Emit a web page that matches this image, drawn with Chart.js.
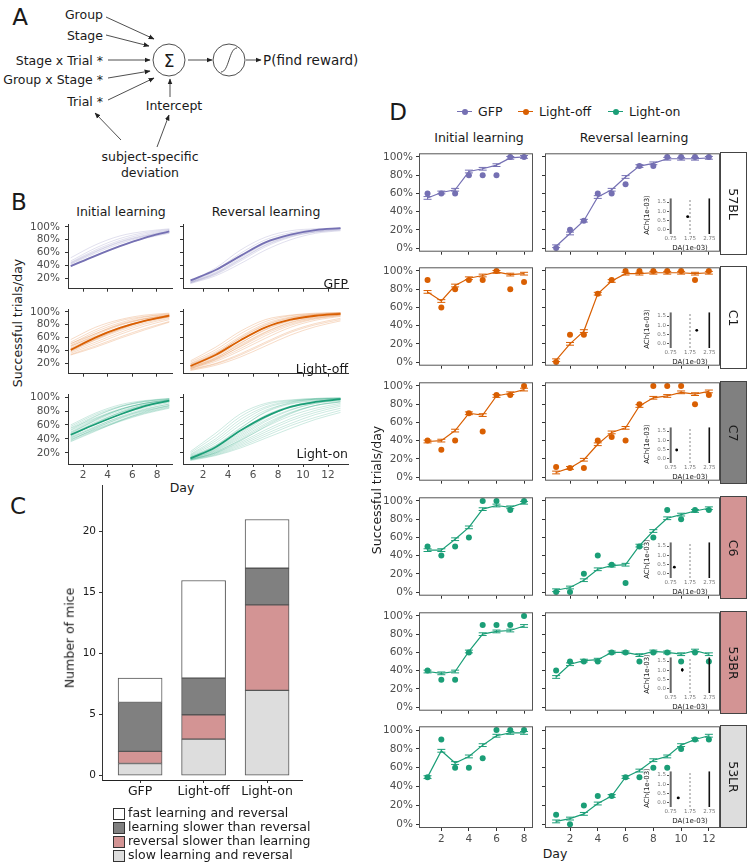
<!DOCTYPE html>
<html>
<head>
<meta charset="utf-8">
<script src="https://cdn.jsdelivr.net/npm/chart.js@4.4.1/dist/chart.umd.min.js"></script>
<style>
body { margin: 0; background: #fff; }
#fig { position: relative; width: 747px; height: 864px; overflow: hidden; font-family: 'DejaVu Sans', sans-serif; color: #1a1a1a; background: #fff; }
#fig canvas { position: absolute; }
</style>
</head>
<body>
<div id="fig">
<svg width="380" height="190" style="position:absolute;left:0;top:0" font-family="DejaVu Sans" font-size="12.5" fill="#1a1a1a">
  <defs>
    <marker id="ah" viewBox="0 0 10 10" refX="9" refY="5" markerUnits="userSpaceOnUse" markerWidth="6" markerHeight="6" orient="auto">
      <path d="M0,1 L10,5 L0,9 z" fill="#222"/>
    </marker>
  </defs>
  <g stroke="#222" stroke-width="0.8" marker-end="url(#ah)">
    <line x1="106" y1="17" x2="154" y2="39"/>
    <line x1="106" y1="35" x2="149" y2="46"/>
    <line x1="108" y1="60" x2="150" y2="60"/>
    <line x1="108" y1="78" x2="150" y2="71"/>
    <line x1="108" y1="100" x2="154" y2="78"/>
    <line x1="170" y1="97" x2="170" y2="79"/>
    <line x1="188" y1="60" x2="212" y2="60"/>
    <line x1="246" y1="60" x2="261" y2="60"/>
    <line x1="121" y1="140" x2="95" y2="113"/>
    <line x1="157" y1="147" x2="169" y2="115"/>
  </g>
  <circle cx="169" cy="60" r="16" fill="none" stroke="#222" stroke-width="0.8"/>
  <circle cx="229" cy="60" r="16" fill="none" stroke="#222" stroke-width="0.8"/>
  <path d="M221,72 C229,72 229,48 237,48" fill="none" stroke="#222" stroke-width="0.8"/>
  <text x="169" y="61" font-size="17" text-anchor="middle" dominant-baseline="central">Σ</text>
  <g text-anchor="end" dominant-baseline="central">
    <text x="103" y="14">Group</text>
    <text x="103" y="35">Stage</text>
    <text x="103" y="60">Stage x Trial *</text>
    <text x="103" y="79">Group x Stage *</text>
    <text x="103" y="101">Trial *</text>
  </g>
  <g text-anchor="middle" dominant-baseline="central">
    <text x="174" y="105">Intercept</text>
    <text x="150" y="156">subject-specific</text>
    <text x="150" y="172">deviation</text>
  </g>
  <text x="263" y="60" font-size="13.5" dominant-baseline="central">P(find reward)</text>
</svg>
</div>
<script>
// ---- groups ----
const groups = ['GFP', 'Light-off', 'Light-on'];
const groupColors = ['#7570b3', '#d95f02', '#1b9e77'];

// ---- panel B: fitted learning curves (read at odd days) ----
const bInitDays = [1, 3, 5, 7, 9];
const bRevDays = [1, 3, 5, 7, 9, 11, 13];

const gfpInitMean = [39, 55, 70, 83, 93];
const gfpInitMice = [
  [52, 72, 86, 93, 97], [47, 67, 82, 91, 96], [44, 62, 77, 87, 94], [42, 59, 74, 85, 92],
  [45, 64, 79, 89, 95], [40, 56, 71, 83, 91], [43, 61, 76, 86, 93], [38, 55, 70, 82, 90]
];
const gfpRevMean = [17, 33, 55, 76, 88, 95, 98];
const gfpRevMice = [
  [16, 36, 64, 84, 94, 97, 98], [15, 33, 59, 80, 91, 96, 98], [14, 29, 52, 74, 87, 94, 97],
  [13, 26, 47, 69, 84, 92, 96], [14, 28, 50, 72, 86, 93, 97], [12, 24, 43, 64, 80, 90, 94],
  [15, 31, 56, 77, 89, 95, 97], [13, 27, 49, 71, 85, 92, 95]
];

const offInitMean = [41, 60, 75, 86, 94];
const offInitMice = [
  [57, 76, 88, 95, 98], [53, 72, 86, 93, 97], [50, 69, 83, 92, 96], [48, 66, 81, 90, 95],
  [46, 64, 79, 89, 95], [44, 61, 76, 87, 94], [42, 58, 73, 85, 93], [40, 56, 71, 83, 92],
  [38, 53, 68, 81, 90], [36, 50, 65, 78, 88], [34, 47, 61, 74, 85], [33, 45, 59, 72, 84],
  [47, 62, 76, 86, 92], [43, 60, 75, 86, 93], [51, 66, 80, 89, 94], [39, 57, 73, 86, 95]
];
const offRevMean = [16, 33, 56, 76, 88, 94, 97];
const offRevMice = [
  [24, 45, 70, 88, 95, 98, 99], [22, 41, 66, 85, 94, 97, 99], [20, 38, 62, 82, 92, 96, 98],
  [19, 36, 59, 79, 90, 95, 98], [18, 34, 56, 76, 88, 94, 97], [16, 31, 52, 72, 86, 93, 96],
  [15, 29, 49, 69, 84, 92, 96], [14, 27, 46, 66, 81, 90, 95], [13, 25, 43, 63, 79, 89, 94],
  [12, 23, 40, 59, 76, 87, 93], [11, 20, 35, 53, 70, 82, 90], [9, 17, 30, 47, 64, 77, 86],
  [10, 19, 33, 51, 68, 80, 88], [17, 35, 60, 80, 91, 96, 98], [12, 26, 47, 68, 83, 91, 95],
  [14, 28, 51, 73, 87, 94, 97]
];

const onInitMean = [46, 61, 75, 87, 95];
const onInitMice = [
  [60, 77, 89, 95, 98], [58, 75, 87, 94, 97], [56, 73, 86, 93, 97], [55, 70, 83, 91, 96],
  [52, 69, 82, 91, 95], [50, 68, 82, 91, 96], [49, 66, 80, 89, 94], [48, 67, 82, 91, 96],
  [47, 64, 78, 88, 94], [46, 63, 77, 87, 93], [45, 61, 75, 85, 92], [44, 62, 78, 89, 95],
  [43, 58, 71, 81, 88], [42, 56, 69, 80, 87], [41, 57, 72, 83, 90], [40, 54, 67, 78, 86],
  [39, 53, 66, 77, 85], [38, 55, 70, 82, 90], [37, 52, 65, 76, 84], [36, 51, 66, 79, 88],
  [53, 72, 86, 94, 98]
];
const onRevMean = [12, 28, 52, 72, 86, 93, 97];
const onRevMice = [
  [22, 48, 76, 91, 96, 98, 99], [20, 44, 72, 89, 95, 98, 99], [18, 40, 68, 86, 94, 97, 98],
  [17, 37, 64, 84, 93, 97, 98], [16, 34, 60, 81, 91, 96, 98], [15, 31, 56, 78, 90, 95, 97],
  [14, 29, 52, 74, 87, 94, 97], [13, 27, 49, 71, 85, 93, 96], [13, 25, 45, 67, 82, 91, 95],
  [12, 23, 41, 62, 78, 88, 93], [12, 22, 38, 57, 73, 84, 91], [11, 20, 35, 53, 69, 81, 89],
  [11, 19, 33, 50, 66, 78, 87], [10, 18, 31, 47, 62, 75, 84], [10, 17, 29, 44, 59, 71, 81],
  [9, 16, 27, 41, 55, 68, 78], [12, 24, 43, 65, 81, 91, 96], [14, 30, 55, 79, 92, 97, 98],
  [10, 20, 37, 58, 76, 88, 94], [11, 21, 39, 60, 77, 88, 93], [13, 26, 47, 70, 86, 94, 97]
];

// ---- panel C: mice per learning profile ----
const cClasses = ['slow learning and reversal', 'reversal slower than learning',
  'learning slower than reversal', 'fast learning and reversal'];
const cSlow = [1, 3, 7];
const cRevSlower = [1, 2, 7];
const cLearnSlower = [4, 3, 3];
const cFast = [2, 8, 4];
const classColors = ['#dddddd', '#d39494', '#808080', '#ffffff'];

// ---- panel D: example subjects ----
const subjects = ['57BL', 'C1', 'C7', 'C6', '53BR', '53LR'];
const subjectGroup = ['GFP', 'Light-off', 'Light-off', 'Light-on', 'Light-on', 'Light-on'];
const subjectClass = [3, 3, 2, 1, 1, 0];   // index into cClasses
const dInitDays = [1, 2, 3, 4, 5, 6, 7, 8];
const dRevDays = [1, 2, 3, 4, 5, 6, 7, 8, 9, 10, 11, 12];
const initObs = [
  [60, 60, 60, 80, 80, 80, 100, 100],
  [90, 60, 80, 90, 90, 100, 80, 88],
  [40, 30, 40, 70, 50, 90, 90, 100],
  [50, 40, 50, 60, 100, 100, 90, 100],
  [40, 30, 30, 60, 90, 90, 90, 100],
  [50, 90, 60, 60, 70, 100, 100, 100]
];
const initFit = [
  [55, 61, 64, 84, 87, 91, 99, 100],
  [77, 67, 84, 92, 95, 99, 96, 97],
  [39, 40, 51, 70, 68, 89, 92, 96],
  [46, 46, 58, 71, 91, 95, 93, 98],
  [39, 37, 39, 61, 80, 83, 84, 89],
  [50, 78, 65, 72, 84, 94, 97, 97]
];
const revObs = [
  [0, 20, 30, 60, 60, 70, 90, 90, 100, 100, 100, 100],
  [0, 30, 30, 75, 90, 100, 100, 100, 100, 100, 90, 100],
  [11, 10, 10, 40, 44, 40, 80, 100, 100, 100, 80, 90],
  [0, 0, 20, 40, 30, 10, 50, 60, 90, 80, 90, 90],
  [40, 50, 50, 50, 60, 60, 50, 60, 60, 50, 60, 50],
  [10, 0, 20, 30, 30, 50, 50, 60, 60, 80, 90, 90]
];
const revFit = [
  [2, 16, 30, 56, 64, 78, 90, 93, 98, 98, 98, 99],
  [2, 20, 34, 75, 89, 97, 97, 98, 98, 98, 97, 98],
  [5, 10, 19, 36, 49, 54, 78, 87, 89, 93, 91, 94],
  [2, 5, 13, 25, 29, 30, 51, 67, 81, 85, 89, 92],
  [33, 47, 51, 52, 60, 60, 57, 61, 60, 58, 62, 58],
  [3, 6, 11, 22, 30, 50, 57, 68, 72, 84, 90, 94]
];
const fitErr = 1.5;
// insets: subject-level DA / ACh estimates
const insetDA = [1.63, 2.10, 1.06, 0.94, 1.35, 1.14];
const insetACh = [0.71, 0.73, 0.48, 0.36, 1.02, 0.27];
const insetDAErr = [0.06, 0.03, 0.03, 0.03, 0.05, 0.07];
const insetAChErr = [0.02, 0.03, 0.02, 0.02, 0.10, 0.02];
const insetRefLines = [0.75, 1.75, 2.75];

// ---------------------------------------------------------------
Chart.defaults.font.family = "'DejaVu Sans', sans-serif";
Chart.defaults.animation = false;
Chart.defaults.events = [];
Chart.defaults.plugins.legend.display = false;
Chart.defaults.plugins.tooltip.enabled = false;

const fig = document.getElementById('fig');
const TICK_TXT = '#4d4d4d', TICK = '#333333';

function txt(s, x, y, o) {
  o = o || {};
  const d = document.createElement('div');
  d.textContent = s;
  const ax = o.align === 'left' ? '0' : o.align === 'right' ? '-100%' : '-50%';
  d.style.cssText = 'position:absolute;white-space:nowrap;line-height:1;left:' + x + 'px;top:' + y +
    'px;font-size:' + (o.size || 12.5) + 'px;color:' + (o.color || '#1a1a1a') + ';transform:translate(' +
    ax + ',-50%)' + (o.rot ? ' rotate(' + o.rot + 'deg)' : '') + ';';
  fig.appendChild(d);
  return d;
}

function rgba(hex, a) {
  const n = parseInt(hex.slice(1), 16);
  return 'rgba(' + (n >> 16) + ',' + ((n >> 8) & 255) + ',' + (n & 255) + ',' + a + ')';
}

function pts(days, vals) {
  return vals.map((v, i) => ({ x: days[i], y: v }));
}

function linAxis(min, max, ticks, o) {
  return {
    type: 'linear', min: min, max: max, offset: false,
    afterBuildTicks: s => { s.ticks = ticks.map(v => ({ value: v })); },
    ticks: {
      autoSkip: false, maxRotation: 0, color: o.color || TICK_TXT,
      font: { size: o.size || 10 }, padding: o.pad === undefined ? 3 : o.pad,
      callback: o.fmt || (v => v)
    },
    grid: { display: true, offset: false, drawOnChartArea: false, drawTicks: o.tl > 0, tickLength: o.tl || 0, color: o.tc || TICK, lineWidth: 1 },
    border: { display: !!o.bc, color: o.bc, width: 1 }
  };
}

function mount(area, pad, type, datasets, xs, ys, plugins, opts) {
  const cv = document.createElement('canvas');
  const w = area.w + pad.l + pad.r, h = area.h + pad.t + pad.b;
  cv.width = w; cv.height = h;
  cv.style.left = (area.l - pad.l) + 'px';
  cv.style.top = (area.t - pad.t) + 'px';
  cv.style.width = w + 'px';
  cv.style.height = h + 'px';
  fig.appendChild(cv);
  xs.afterFit = s => { s.height = pad.b; };
  ys.afterFit = s => { s.width = pad.l; };
  const options = Object.assign({
    responsive: false,
    layout: { padding: { top: pad.t, right: pad.r, left: 0, bottom: 0 } },
    scales: { x: xs, y: ys }
  }, opts || {});
  return new Chart(cv, { type: type, data: { datasets: datasets }, options: options, plugins: plugins || [] });
}

const boxPlugin = {
  id: 'box',
  afterDraw(chart) {
    const a = chart.chartArea, ctx = chart.ctx;
    ctx.save();
    ctx.strokeStyle = '#555';
    ctx.lineWidth = 1;
    ctx.strokeRect(a.left + 0.5, a.top + 0.5, a.right - a.left - 1, a.bottom - a.top - 1);
    ctx.restore();
  }
};

const errPlugin = {
  id: 'errbars',
  afterDatasetsDraw(chart) {
    const ctx = chart.ctx, xs = chart.scales.x, ys = chart.scales.y;
    chart.data.datasets.forEach((ds, i) => {
      const meta = chart.getDatasetMeta(i);
      ctx.save();
      ctx.strokeStyle = ds.borderColor || '#000';
      ctx.lineWidth = 1;
      ds.data.forEach((p, j) => {
        const px = meta.data[j].x, py = meta.data[j].y;
        ctx.beginPath();
        if (ds.err) {
          const y1 = ys.getPixelForValue(p.y - ds.err), y2 = ys.getPixelForValue(p.y + ds.err);
          ctx.moveTo(px, y1); ctx.lineTo(px, y2);
          ctx.moveTo(px - 4, y1); ctx.lineTo(px + 4, y1);
          ctx.moveTo(px - 4, y2); ctx.lineTo(px + 4, y2);
        }
        if (ds.xerr) {
          ctx.moveTo(xs.getPixelForValue(p.x - ds.xerr), py);
          ctx.lineTo(xs.getPixelForValue(p.x + ds.xerr), py);
        }
        if (ds.yerr) {
          ctx.moveTo(px, ys.getPixelForValue(p.y - ds.yerr));
          ctx.lineTo(px, ys.getPixelForValue(p.y + ds.yerr));
        }
        ctx.stroke();
      });
      ctx.restore();
    });
  }
};

// ---------------- panel letters ----------------
txt('A', 20, 17, { size: 23 });
txt('B', 19, 202, { size: 23 });
txt('C', 18, 506, { size: 23 });
txt('D', 398, 112, { size: 23 });

// ---------------- panel B ----------------
txt('Initial learning', 121, 212);
txt('Reversal learning', 266, 212);
txt('Successful trials/day', 18, 323, { rot: -90 });
txt('Day', 182, 488);

const bSets = [
  [gfpInitMean, gfpInitMice, gfpRevMean, gfpRevMice],
  [offInitMean, offInitMice, offRevMean, offRevMice],
  [onInitMean, onInitMice, onRevMean, onRevMice]
];
const bTops = [221, 306, 391];

function curveSets(days, mean, mice, col) {
  const smooth = { pointRadius: 0, cubicInterpolationMode: 'monotone', fill: false };
  return [Object.assign({ data: pts(days, mean), borderColor: col, borderWidth: 1.8 }, smooth)]
    .concat(mice.map(m => Object.assign({ data: pts(days, m), borderColor: rgba(col, 0.28), borderWidth: 0.8 }, smooth)));
}

bSets.forEach((set, r) => {
  const col = groupColors[r];
  const last = r === bSets.length - 1;
  const t = bTops[r];
  mount({ l: 68, t: t, w: 104, h: 73 }, { l: 40, t: 8, r: 4, b: last ? 20 : 6 }, 'line',
    curveSets(bInitDays, set[0], set[1], col),
    linAxis(0.78, 9.22, [2, 4, 6, 8], { tl: 3, pad: 2, size: 10.5, fmt: v => last ? v : '', bc: '#333' }),
    linAxis(4, 104, [20, 40, 60, 80, 100], { tl: 3, pad: 5, size: 10.5, fmt: v => v + '%', bc: '#333' }));
  mount({ l: 183, t: t, w: 165, h: 73 }, { l: 6, t: 8, r: 8, b: last ? 20 : 6 }, 'line',
    curveSets(bRevDays, set[2], set[3], col),
    linAxis(0.4, 13.6, [2, 4, 6, 8, 10, 12], { tl: 3, pad: 2, size: 10.5, fmt: v => last ? v : '', bc: '#333' }),
    linAxis(4, 104, [20, 40, 60, 80, 100], { tl: 3, pad: 5, size: 10.5, fmt: () => '', bc: '#333' }));
  txt(groups[r], 348, t + 63, { align: 'right' });
});

// ---------------- panel C ----------------
const cSeries = [cSlow, cRevSlower, cLearnSlower, cFast];
const cX = linAxis(0.4, 3.55, [1, 2, 3], { tl: 3, pad: 1, size: 12.5, color: '#1a1a1a', fmt: v => groups[v - 1], bc: '#222' });
const cY = linAxis(-0.35, 23.8, [0, 5, 10, 15, 20], { tl: 3, pad: 3, size: 10.5, color: '#1a1a1a', bc: '#333' });
cX.stacked = true; cY.stacked = true;
mount({ l: 102, t: 480, w: 200, h: 300 }, { l: 30, t: 4, r: 10, b: 22 }, 'bar',
  cSeries.map((vals, k) => ({
    label: cClasses[k],
    data: pts([1, 2, 3], vals),
    backgroundColor: classColors[k],
    borderColor: '#555', borderWidth: 1, borderSkipped: false,
    barThickness: 44
  })), cX, cY);
txt('Number of mice', 70, 638, { rot: -90 });

[3, 2, 1, 0].forEach((k, i) => {
  const y = 813 + i * 14;
  const box = document.createElement('div');
  box.style.cssText = 'position:absolute;left:113px;top:' + (y - 5.5) + 'px;width:10px;height:10px;border:1px solid #333;background:' + classColors[k] + ';';
  fig.appendChild(box);
  txt(cClasses[k], 128, y, { align: 'left' });
});

// ---------------- panel D ----------------
const legendX = [457, 518, 608];
groups.forEach((g, i) => {
  const ln = document.createElement('div');
  ln.style.cssText = 'position:absolute;left:' + legendX[i] + 'px;top:111px;width:15px;height:1.3px;background:' + groupColors[i] + ';';
  fig.appendChild(ln);
  const dot = document.createElement('div');
  dot.style.cssText = 'position:absolute;left:' + (legendX[i] + 4.5) + 'px;top:108.7px;width:6px;height:6px;border-radius:50%;background:' + groupColors[i] + ';';
  fig.appendChild(dot);
  txt(g, legendX[i] + 21, 112, { align: 'left' });
});
txt('Initial learning', 479, 138);
txt('Reversal learning', 634, 138);
txt('Successful trials/day', 377, 490, { rot: -90 });
txt('Day', 555, 854);

const dTops = [152, 266, 381, 496, 611, 725];
const dH = 103;
subjects.forEach((sid, r) => {
  const col = groupColors[groups.indexOf(subjectGroup[r])];
  const last = r === subjects.length - 1;
  const t = dTops[r];
  const pad = { t: 8, r: 4, b: last ? 20 : 6 };
  const sets = (days, obs, fit) => [
    { data: pts(days, obs), showLine: false, pointRadius: 3, pointBackgroundColor: col, pointBorderWidth: 0 },
    { data: pts(days, fit), borderColor: col, borderWidth: 1.2, pointRadius: 0, tension: 0, err: fitErr }
  ];
  mount({ l: 419, t: t, w: 114, h: dH }, Object.assign({ l: 40 }, pad), 'line',
    sets(dInitDays, initObs[r], initFit[r]),
    linAxis(0.38, 8.65, [2, 4, 6, 8], { tl: 3, pad: 2, size: 10.5, fmt: v => last ? v : '' }),
    linAxis(-4, 104, [0, 20, 40, 60, 80, 100], { tl: 3, pad: 3, size: 10.5, fmt: v => v + '%' }),
    [boxPlugin, errPlugin]);
  mount({ l: 545, t: t, w: 175, h: dH }, Object.assign({ l: 6 }, pad), 'line',
    sets(dRevDays, revObs[r], revFit[r]),
    linAxis(0.2, 12.8, [2, 4, 6, 8, 10, 12], { tl: 3, pad: 2, size: 10.5, fmt: v => last ? v : '' }),
    linAxis(-4, 104, [0, 20, 40, 60, 80, 100], { tl: 3, pad: 3, size: 10.5, fmt: () => '' }),
    [boxPlugin, errPlugin]);

  // inset: DA vs ACh
  const yMin = -0.22, yMax = 1.7;
  const vline = (x, color, width, dash) => ({
    data: [{ x: x, y: yMin }, { x: x, y: yMax }], borderColor: color, borderWidth: width,
    borderDash: dash || [], pointRadius: 0
  });
  mount({ l: 669, t: t + 46, w: 42, h: 36 }, { l: 16, t: 4, r: 6, b: 9 }, 'line', [
    { data: [{ x: insetDA[r], y: insetACh[r] }], showLine: false, pointRadius: 1.4,
      pointBackgroundColor: '#000', pointBorderWidth: 0, borderColor: '#000',
      xerr: insetDAErr[r], yerr: insetAChErr[r] },
    vline(insetRefLines[0], '#666', 2),
    vline(insetRefLines[1], '#888', 1, [2, 2]),
    vline(insetRefLines[2], '#111', 1.6)
  ],
    linAxis(0.662, 2.838, insetRefLines, { tl: 0, pad: 1, size: 5.5, color: '#777', fmt: v => v.toFixed(2) }),
    linAxis(yMin, yMax, [0, 0.5, 1, 1.5], { tl: 2, pad: 1, size: 5.5, color: '#777', tc: '#555', fmt: v => v.toFixed(1) }),
    [errPlugin]);
  txt('ACh(1e-03)', 647, t + 63, { size: 7, rot: -90 });
  txt('DA(1e-03)', 690, t + 95.5, { size: 7 });

  // strip
  const strip = document.createElement('div');
  strip.style.cssText = 'position:absolute;left:720px;top:' + t + 'px;width:25px;height:' + (dH - 2) +
    'px;border:1px solid #444;background:' + classColors[subjectClass[r]] + ';';
  fig.appendChild(strip);
  txt(sid, 733, t + dH / 2, { rot: 90 });
});
</script>
</body>
</html>
